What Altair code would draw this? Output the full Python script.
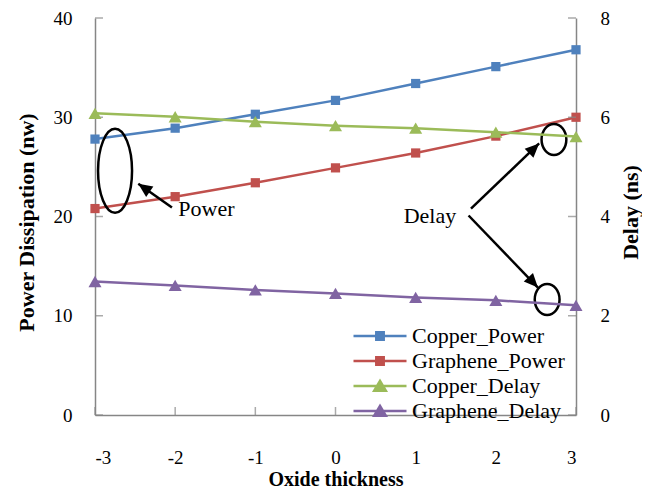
import altair as alt
import pandas as pd

# ---------------- data ----------------
x_vals = [-3, -2, -1, 0, 1, 2, 3]
copper_power = [27.8, 28.9, 30.3, 31.7, 33.4, 35.1, 36.8]
graphene_power = [20.8, 22.0, 23.4, 24.9, 26.4, 28.1, 30.0]
copper_delay = [6.08, 6.01, 5.91, 5.83, 5.78, 5.70, 5.61]
graphene_delay = [2.69, 2.61, 2.52, 2.45, 2.37, 2.31, 2.21]

series_names = ["Copper_Power", "Graphene_Power", "Copper_Delay", "Graphene_Delay"]
series_colors = ["#4F81BD", "#C0504D", "#9BBB59", "#8064A2"]

left_ticks = [0, 10, 20, 30, 40]
right_ticks = [0, 2, 4, 6, 8]

# annotations (x in oxide thickness units, y in power units)
ann_text = ["Power", "Delay"]
ann_text_x = [-1.96, 0.85]
ann_text_y = [20.1, 19.3]

big_ellipse_x = [-2.75]
big_ellipse_y = [24.6]
small_ellipse_x = [2.725, 2.64]
small_ellipse_y = [27.76, 11.64]

arrow_x0 = [-2.04, 1.69, 1.66]
arrow_y0 = [20.9, 20.8, 20.1]
arrow_x1 = [-2.46, 2.54, 2.525]
arrow_y1 = [23.3, 27.36, 12.84]
arrow_angle = [305, 46, 137]

# ---------------- frames ----------------
power_df = pd.DataFrame({
    "x": x_vals * 2,
    "value": copper_power + graphene_power,
    "series": ["Copper_Power"] * 7 + ["Graphene_Power"] * 7,
})
delay_df = pd.DataFrame({
    "x": x_vals * 2,
    "value": copper_delay + graphene_delay,
    "series": ["Copper_Delay"] * 7 + ["Graphene_Delay"] * 7,
})
legend_df = pd.DataFrame({"series": series_names, "x": [10] * 4, "value": [0] * 4})
text_df = pd.DataFrame({"t": ann_text, "x": ann_text_x, "y": ann_text_y})
big_df = pd.DataFrame({"x": big_ellipse_x, "y": big_ellipse_y})
small_df = pd.DataFrame({"x": small_ellipse_x, "y": small_ellipse_y})
arrow_df = pd.DataFrame({"x": arrow_x0, "y": arrow_y0, "x2": arrow_x1, "y2": arrow_y1, "a": arrow_angle})
lt_df = pd.DataFrame({"v": left_ticks})
rt_df = pd.DataFrame({"v": right_ticks})
xt_df = pd.DataFrame({"v": x_vals})

W, H = 481, 397
FONT = "Liberation Serif"
GRAY = "#868686"
LBL = 19
TTL = 20

xscale = alt.Scale(domain=[-3, 3], nice=False, zero=False)
pscale = alt.Scale(domain=[0, 40], nice=False)
dscale = alt.Scale(domain=[0, 8], nice=False)
cscale = alt.Scale(domain=series_names, range=series_colors)
# mark colours (same mapping, domain listed in another order so it is kept apart from the legend)
mscale = alt.Scale(domain=series_names[::-1], range=series_colors[::-1])

x_axis = alt.Axis(values=x_vals, title="Oxide thickness", ticks=False, grid=False,
                  labelExpr="'' + datum.value",
                  labelPadding=33, labelFontSize=LBL, labelFont=FONT, labelColor="black",
                  titleFont=FONT, titleFontSize=TTL, titleFontWeight="bold", titleColor="black",
                  titleY=64, titleBaseline="middle", domainColor=GRAY, domainWidth=1.5)
left_axis = alt.Axis(orient="left", values=left_ticks, title="Power Dissipation (nw)", ticks=False,
                     grid=False, labelPadding=23, labelFontSize=LBL, labelFont=FONT, labelColor="black",
                     titleFont=FONT, titleFontSize=TTL + 2, titleFontWeight="bold", titleColor="black",
                     titleX=-69, titleY=204, titleAngle=270, titleBaseline="middle", titleAlign="center",
                     domainColor=GRAY, domainWidth=1.5)
right_axis = alt.Axis(orient="right", values=right_ticks, title="Delay (ns)", ticks=False,
                      grid=False, labelPadding=24, labelFontSize=LBL, labelFont=FONT, labelColor="black",
                      titleFont=FONT, titleFontSize=TTL + 2, titleFontWeight="bold", titleColor="black",
                      titleX=54, titleY=194, titleAngle=270, titleBaseline="middle", titleAlign="center",
                      domainColor=GRAY, domainWidth=1.5)


def X(f="x"):
    return alt.X(f"{f}:Q", scale=xscale, axis=x_axis)


def YP(f):
    return alt.Y(f"{f}:Q", scale=pscale, axis=left_axis)


def YD(f):
    return alt.Y(f"{f}:Q", scale=dscale, axis=right_axis)


# legend symbols: line with marker
sq = "M-0.14,-0.14H0.14V0.14H-0.14Z M-0.09,-0.09H0.09V0.09H-0.09Z M-0.04,-0.04H0.04V0.04H-0.04Z"
tr = "M0,-0.19L0.22,0.18L-0.22,0.18Z M0,-0.1L0.12,0.1L-0.12,0.1Z M0,-0.03L0.03,0.03L-0.03,0.03Z"
line = "M-1,0H1 "
shape_range = [line + sq, line + sq, line + tr, line + tr]

stroke_enc = alt.Stroke("series:N", scale=mscale, legend=None)
fill_enc = alt.Fill("series:N", scale=mscale, legend=None)

# ---------------- power layer ----------------
p_lines = alt.Chart(power_df).mark_line(strokeWidth=2.5).encode(
    x=X(), y=YP("value"), stroke=stroke_enc)
p_points = alt.Chart(power_df).mark_point(shape="square", filled=True, size=85, opacity=1,
                                          strokeWidth=0).encode(
    x=X(), y=YP("value"), fill=fill_enc)
legend_layer = alt.Chart(legend_df).mark_point(filled=False, clip=True, strokeWidth=2.5,
                                               opacity=1).encode(
    x=X(), y=YP("value"),
    color=alt.Color("series:N", scale=cscale, sort=series_names,
                    legend=alt.Legend(orient="none", legendX=257, legendY=308, title=None,
                                      labelFont=FONT, labelFontSize=22, labelColor="black",
                                      symbolSize=2809, symbolStrokeWidth=2.5, symbolOpacity=1,
                                      clipHeight=20, rowPadding=3, labelOffset=4, padding=0)),
    shape=alt.Shape("series:N", scale=alt.Scale(domain=series_names, range=shape_range),
                    sort=series_names))

k = 0.5523


def ellipse_path(rx):
    return (f"M0,-1 C{k*rx:.4f},-1 {rx},{-k:.4f} {rx},0 C{rx},{k:.4f} {k*rx:.4f},1 0,1 "
            f"C{-k*rx:.4f},1 {-rx},{k:.4f} {-rx},0 C{-rx},{-k:.4f} {-k*rx:.4f},-1 0,-1 Z")


big_ell = alt.Chart(big_df).mark_point(shape=ellipse_path(0.405), size=7056, filled=False,
                                        color="black", strokeWidth=2.5, opacity=1).encode(
    x=X(), y=YP("y"))
small_ell = alt.Chart(small_df).mark_point(shape=ellipse_path(0.8), size=961, filled=False,
                                            color="black", strokeWidth=2.5, opacity=1).encode(
    x=X(), y=YP("y"))
arrows = alt.Chart(arrow_df).mark_rule(color="black", strokeWidth=2.5).encode(
    x=X(), y=YP("y"), x2="x2:Q", y2="y2:Q")
heads = alt.Chart(arrow_df).mark_point(shape="M0,0L0.45,1L-0.45,1Z", size=784, filled=True,
                                        color="black", opacity=1).encode(
    x=X("x2"), y=YP("y2"), angle=alt.Angle("a:Q", scale=None))
texts = alt.Chart(text_df).mark_text(font=FONT, fontSize=22, align="left", baseline="alphabetic",
                                     color="black").encode(
    x=X(), y=YP("y"), text="t:N")

lticks = alt.Chart(lt_df).mark_tick(orient="horizontal", color=GRAY, size=8, thickness=1.5).encode(
    y=YP("v"), x=alt.value(4))
xticks = alt.Chart(xt_df).mark_tick(orient="vertical", color=GRAY, size=8, thickness=1.5).encode(
    x=X("v"), y=alt.value(H - 4))

power_layer = alt.layer(lticks, xticks, p_lines, p_points, big_ell, small_ell, arrows, heads, texts,
                        legend_layer)

# ---------------- delay layer ----------------
d_lines = alt.Chart(delay_df).mark_line(strokeWidth=2.5).encode(
    x=X(), y=YD("value"), stroke=stroke_enc)
d_points = alt.Chart(delay_df).mark_point(shape="triangle-up", filled=True, size=170, opacity=1,
                                          strokeWidth=0).encode(
    x=X(), y=YD("value"), fill=fill_enc)
rticks = alt.Chart(rt_df).mark_tick(orient="horizontal", color=GRAY, size=8, thickness=1.5).encode(
    y=YD("v"), x=alt.value(W - 4))
delay_layer = alt.layer(rticks, d_lines, d_points)

chart = alt.layer(power_layer, delay_layer).resolve_scale(y="independent").properties(
    width=W, height=H,
    autosize=alt.AutoSizeParams(type="none"),
    padding={"left": 87, "top": 10, "right": 66, "bottom": 74},
).configure_view(stroke=None)

chart.save("out.html", embed_options={"renderer": "svg", "actions": False})
